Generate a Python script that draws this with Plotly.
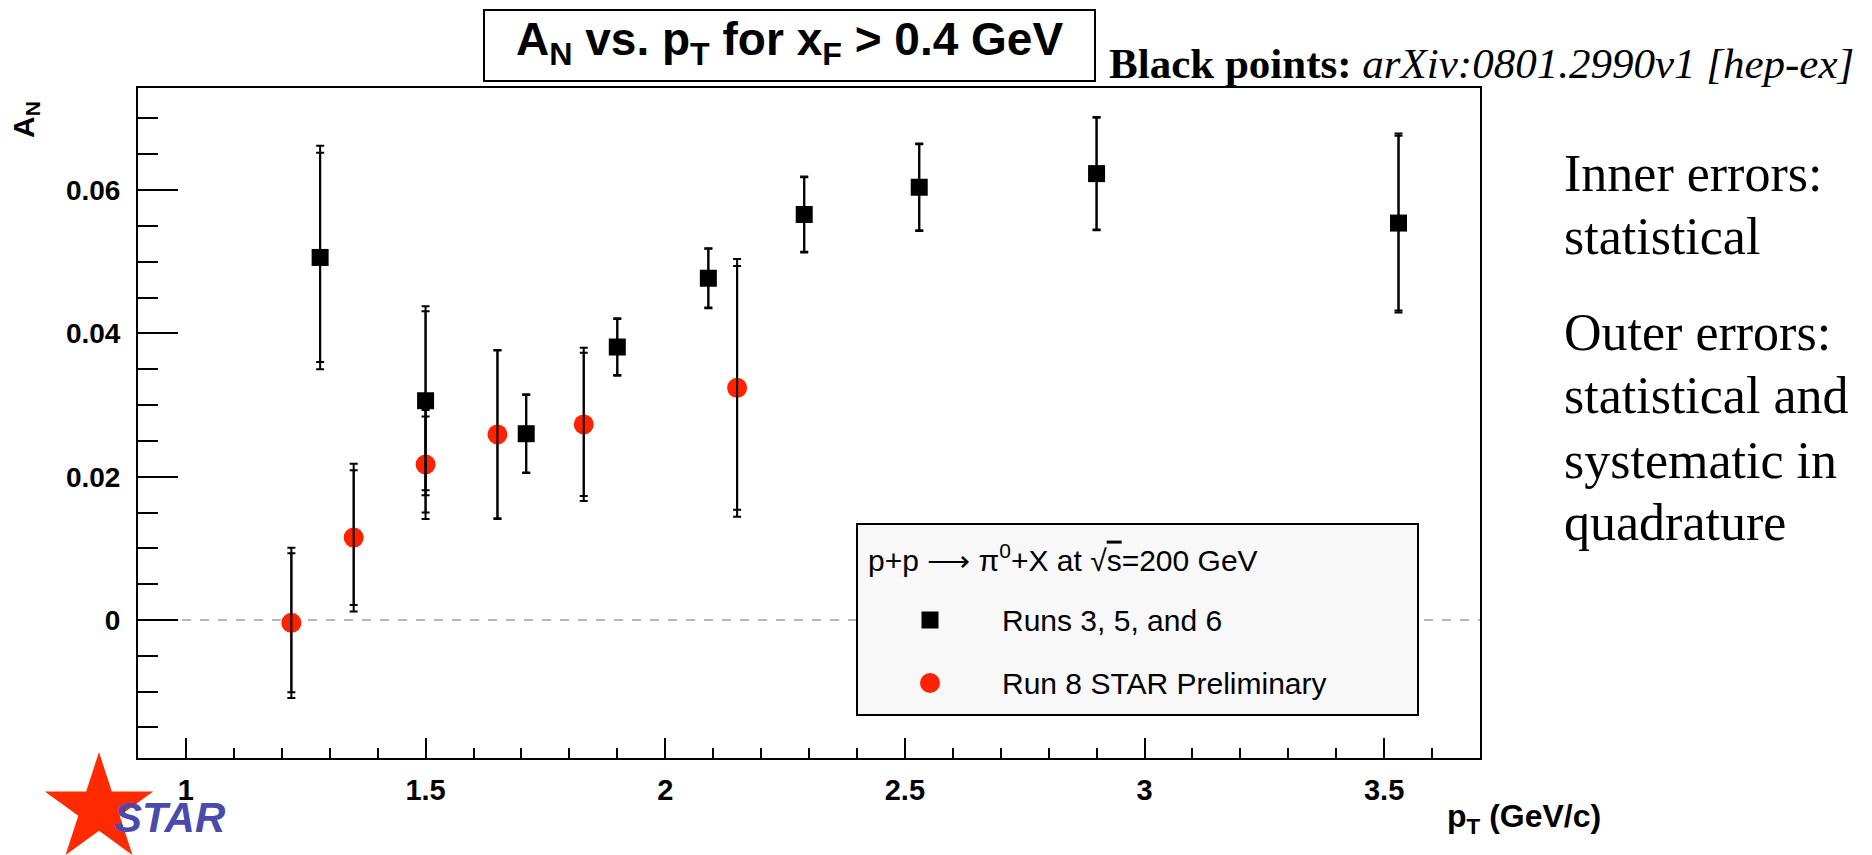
import math
import plotly.graph_objects as go

# ---------------- data ----------------
black_pt = [1.28, 1.50, 1.71, 1.90, 2.09, 2.29, 2.53, 2.90, 3.53]
black_an = [0.0506, 0.0306, 0.0260, 0.0381, 0.0477, 0.0566, 0.0604, 0.0623, 0.0554]
black_stat = [0.0146, 0.0125, 0.0054, 0.0039, 0.0041, 0.0052, 0.0060, 0.0078, 0.0122]
black_total = [0.0156, 0.0132, 0.0055, 0.0040, 0.0042, 0.0053, 0.0061, 0.0079, 0.0125]

red_pt = [1.22, 1.35, 1.50, 1.65, 1.83, 2.15]
red_an = [-0.0004, 0.0115, 0.0217, 0.0259, 0.0273, 0.0324]
red_stat = [0.0097, 0.0094, 0.0067, 0.0117, 0.0100, 0.0170]
red_total = [0.0105, 0.0103, 0.0076, 0.0118, 0.0107, 0.0180]

x_tickvals = [1, 1.5, 2, 2.5, 3, 3.5]
x_ticktext = ["1", "1.5", "2", "2.5", "3", "3.5"]
y_tickvals = [0, 0.02, 0.04, 0.06]
y_ticktext = ["0", "0.02", "0.04", "0.06"]

black_name = "Runs 3, 5, and 6"
red_name = "Run 8 STAR Preliminary"

# ---------------- layout geometry ----------------
W, H = 1872, 855
ML, MR, MT, MB = 138, 392, 88, 97
PW, PH = W - ML - MR, H - MT - MB


def px(x):
    return (x - ML) / PW


def py(y):
    return (H - MB - y) / PH


SANS = "Liberation Sans, Arial, Helvetica, sans-serif"
SERIF = "Liberation Serif, Times New Roman, Times, serif"
RED = "#ff2200"

fig = go.Figure()

# markers with inner (statistical) errors
fig.add_trace(go.Scatter(
    x=red_pt, y=red_an, mode="markers", name=red_name, showlegend=False,
    marker=dict(symbol="circle", size=20, color=RED, line=dict(width=0)),
    error_y=dict(type="data", array=red_stat, color="black", thickness=2, width=4),
))
fig.add_trace(go.Scatter(
    x=black_pt, y=black_an, mode="markers", name=black_name, showlegend=False,
    marker=dict(symbol="square", size=17, color="black", line=dict(width=0)),
    error_y=dict(type="data", array=black_stat, color="black", thickness=2, width=4),
))
# outer (total) errors drawn on top
fig.add_trace(go.Scatter(
    x=red_pt, y=red_an, mode="markers", showlegend=False, hoverinfo="skip",
    marker=dict(size=1, color="rgba(0,0,0,0)"),
    error_y=dict(type="data", array=red_total, color="black", thickness=2, width=4),
))
fig.add_trace(go.Scatter(
    x=black_pt, y=black_an, mode="markers", showlegend=False, hoverinfo="skip",
    marker=dict(size=1, color="rgba(0,0,0,0)"),
    error_y=dict(type="data", array=black_total, color="black", thickness=2, width=4),
))

shapes = []
# dashed zero line
shapes.append(dict(type="line", xref="paper", yref="y", x0=0.006, x1=1, y0=0, y1=0,
                   line=dict(color="#a0a0a0", width=1.5, dash="dash"), layer="below"))
# legend box
shapes.append(dict(type="rect", xref="paper", yref="paper",
                   x0=px(857), x1=px(1418), y0=py(715), y1=py(524),
                   fillcolor="#f8f8f8", line=dict(color="black", width=2), layer="above"))
# legend markers
shapes.append(dict(type="rect", xref="paper", yref="paper",
                   x0=px(921.5), x1=px(938.5), y0=py(628.5), y1=py(611.5),
                   fillcolor="black", line=dict(width=0), layer="above"))
shapes.append(dict(type="circle", xref="paper", yref="paper",
                   x0=px(920), x1=px(940), y0=py(693), y1=py(673),
                   fillcolor=RED, line=dict(width=0), layer="above"))
# title box
shapes.append(dict(type="rect", xref="paper", yref="paper",
                   x0=px(484), x1=px(1095), y0=py(81), y1=py(10),
                   fillcolor="white", line=dict(color="black", width=2), layer="above"))
# STAR logo star
cx, cy, R = 99, 809, 57
r = R * 0.382
pts = []
for i in range(10):
    ang = math.radians(-90 + 36 * i)
    rad = R if i % 2 == 0 else r
    pts.append((cx + rad * math.cos(ang), cy + rad * math.sin(ang)))
path = "M " + " L ".join(f"{px(a):.5f},{py(b):.5f}" for a, b in pts) + " Z"
shapes.append(dict(type="path", xref="paper", yref="paper", path=path,
                   fillcolor="#ff2a00", line=dict(width=0), layer="above"))

annotations = []


def ann(text, x, y, size, family=SANS, xanchor="left", color="black", **kw):
    annotations.append(dict(text=text, x=px(x), y=py(y), xref="paper", yref="paper",
                            xanchor=xanchor, yanchor="middle", showarrow=False,
                            font=dict(size=size, family=family, color=color), **kw))


# title
ann("<b>A<sub>N</sub> vs. p<sub>T</sub> for x<sub>F</sub> &gt; 0.4 GeV</b>", 789, 43, 46,
    xanchor="center")
# reference note
ann("<b>Black points:</b> <i>arXiv:0801.2990v1 [hep-ex]</i>", 1107, 63.5, 43, family=SERIF)
# right-side explanation
right_lines = [("Inner errors:", 191), ("statistical", 254), ("Outer errors:", 350),
               ("statistical and", 413), ("systematic in", 478), ("quadrature", 540)]
for txt, base in right_lines:
    ann(txt, 1562, base - 17.5, 52, family=SERIF)
# legend text
ann("p+p ⟶ π<sup>0</sup>+X at √<span style='text-decoration:overline'>s</span>=200 GeV",
    866, 558, 30)
ann(black_name, 1000, 620, 30)
ann(red_name, 1000, 683, 30)
# axis titles
ann("<b>A<sub>N</sub></b>", 26, 119, 30, xanchor="center", textangle=-90)
ann("<b>p<sub>T</sub> (GeV/c)</b>", 1445, 818, 32)
# STAR logo text
ann("<b><i>STAR</i></b>", 170, 817, 42, xanchor="center", color="#4a4aaa")

fig.update_layout(
    width=W, height=H,
    margin=dict(l=ML, r=MR, t=MT, b=MB, pad=0),
    paper_bgcolor="white", plot_bgcolor="white",
    showlegend=False,
    shapes=shapes, annotations=annotations,
    xaxis=dict(range=[0.9, 3.7], tickvals=x_tickvals, ticktext=x_ticktext,
               ticks="inside", ticklen=20, tickwidth=2, tickcolor="black",
               minor=dict(dtick=0.1, tick0=0, ticks="inside", ticklen=10, tickwidth=2,
                          tickcolor="black", showgrid=False),
               showgrid=False, zeroline=False, showline=True, linewidth=2,
               linecolor="black", mirror=True, ticklabelstandoff=5,
               tickfont=dict(size=29, family=SANS, color="black", weight="bold")),
    yaxis=dict(range=[-0.01926, 0.07425], tickvals=y_tickvals, ticktext=y_ticktext,
               ticks="inside", ticklen=40, tickwidth=2, tickcolor="black",
               minor=dict(dtick=0.005, tick0=0, ticks="inside", ticklen=20, tickwidth=2,
                          tickcolor="black", showgrid=False),
               showgrid=False, zeroline=False, showline=True, linewidth=2,
               linecolor="black", mirror=True, ticklabelstandoff=10,
               tickfont=dict(size=28, family=SANS, color="black", weight="bold")),
)

fig.write_html("out.html")
